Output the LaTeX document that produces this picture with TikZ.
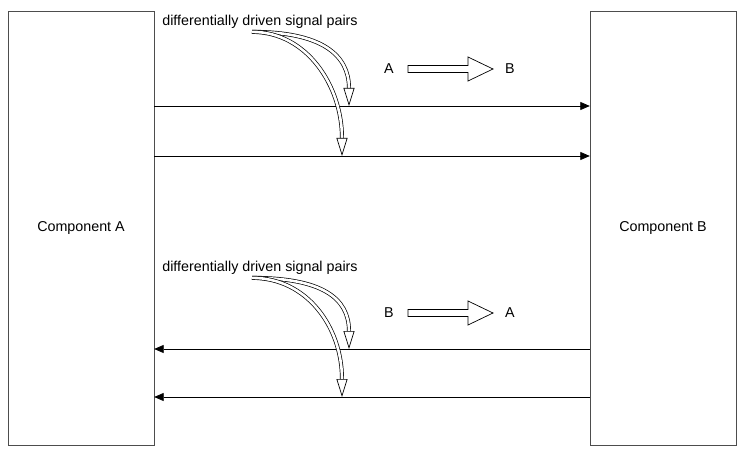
\documentclass[tikz,border=0pt]{standalone}
\usepackage{fontspec}
\setmainfont{Liberation Sans}
\usetikzlibrary{arrows.meta,positioning}
\definecolor{frame}{HTML}{4D4D4D}
\tikzset{>=Latex,line width=.8pt,
  every node/.style={font=\fontsize{14.3}{16}\selectfont},
  comp/.style={draw=frame,minimum width=146pt,minimum height=434pt,inner sep=0pt},
  sig/.style={->,draw=black,line width=.8pt,>={Triangle[length=9.5pt,width=8pt]}},
  flex/.style={double=white,double distance=2.6pt,line width=.7pt,
    -{Triangle[open,length=18pt,width=11pt]}},
  hollow/.style={draw=black,fill=white,line width=.7pt,line join=miter},
  note/.style={inner sep=1pt}}
% big hollow direction arrow, starting at the given point
\newcommand{\dirarrow}[1]{\draw[hollow] (#1) ++(0,-3.5) -- ++(60,0) -- ++(0,-8.5)
  -- ++(25,12) -- ++(-25,12) -- ++(0,-8.5) -- ++(-60,0) -- cycle;}

\begin{document}
\begin{tikzpicture}[x=1pt,y=-1pt]
\useasboundingbox (0,0) rectangle (746,454);
\node[comp] (cA) at (81,228) {Component A};
\node[comp] (cB) at (663,228) {Component B};
% signal lines
\coordinate (ab1) at (0,106);
\coordinate (ab2) at (0,156);
\coordinate (ba1) at (0,349);
\coordinate (ba2) at (0,397);
\draw[sig] (cA.east |- ab1) -- (cB.west |- ab1);
\draw[sig] (cA.east |- ab2) -- (cB.west |- ab2);
\draw[sig] (cB.west |- ba1) -- (cA.east |- ba1);
\draw[sig] (cB.west |- ba2) -- (cA.east |- ba2);
% labels with their pointers
\node[note] (pairsAB) at (260,22) {differentially driven signal pairs};
\node[note] (pairsBA) at (260,268) {differentially driven signal pairs};
\coordinate (hitAB1) at (349,106);
\coordinate (hitAB2) at (342,156);
\coordinate (hitBA1) at (349,349);
\coordinate (hitBA2) at (342,397);
\draw[flex] ([xshift=-8pt,yshift=-2pt]pairsAB.south) .. controls +(70,0) and +(0,-51) .. (hitAB1);
\draw[flex] ([xshift=-8pt,yshift=-2pt]pairsAB.south) .. controls +(55,0) and +(0,-70) .. (hitAB2);
\draw[flex] ([xshift=-8pt,yshift=-2pt]pairsBA.south) .. controls +(70,0) and +(0,-51) .. (hitBA1);
\draw[flex] ([xshift=-8pt,yshift=-2pt]pairsBA.south) .. controls +(55,0) and +(0,-70) .. (hitBA2);
% direction
\node (fromA) at (389,69) {A};
\node (toB) at (510,69) {B};
\coordinate (dirAB) at (408,69);
\dirarrow{dirAB}
\node (fromB) at (389,313) {B};
\node (toA) at (510,313) {A};
\coordinate (dirBA) at (408,313);
\dirarrow{dirBA}
\end{tikzpicture}
\end{document}
